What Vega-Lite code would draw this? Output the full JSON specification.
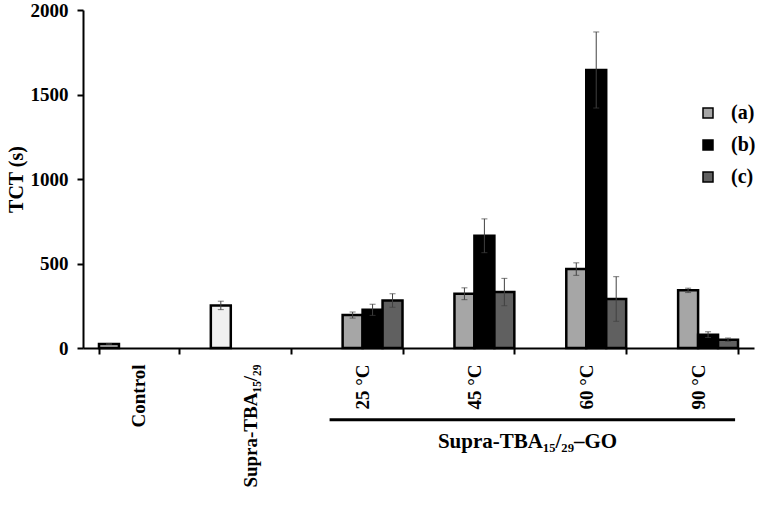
{
  "$schema": "https://vega.github.io/schema/vega-lite/v6.json",
  "width": 671,
  "height": 338,
  "autosize": {"type": "none"},
  "padding": {"left": 83, "top": 10, "right": 11, "bottom": 163},
  "config": {
    "view": {"stroke": null},
    "font": "'Times New Roman', 'Liberation Serif', serif",
    "axis": {
      "domainColor": "black", "domainWidth": 2, "tickColor": "black", "tickWidth": 2,
      "labelColor": "black", "labelFont": "'Times New Roman', 'Liberation Serif', serif", "labelFontWeight": "bold", "labelFontSize": 19,
      "titleColor": "black", "titleFont": "'Times New Roman', 'Liberation Serif', serif", "titleFontWeight": "bold", "titleFontSize": 20, "grid": false
    }
  },
  "datasets": {
    "tct": [
      {"category": "Control", "slot": "base", "series": "control", "tct": 24, "lo": 21, "hi": 27},
      {"category": "Supra-TBA₁₅/₂₉", "slot": "base", "series": "supra", "tct": 252, "lo": 227, "hi": 277},
      {"category": "25 °C", "slot": "(a)", "series": "(a)", "tct": 195, "lo": 177, "hi": 213},
      {"category": "25 °C", "slot": "(b)", "series": "(b)", "tct": 226, "lo": 193, "hi": 259},
      {"category": "25 °C", "slot": "(c)", "series": "(c)", "tct": 281, "lo": 241, "hi": 321},
      {"category": "45 °C", "slot": "(a)", "series": "(a)", "tct": 321, "lo": 286, "hi": 356},
      {"category": "45 °C", "slot": "(b)", "series": "(b)", "tct": 664, "lo": 564, "hi": 764},
      {"category": "45 °C", "slot": "(c)", "series": "(c)", "tct": 331, "lo": 250, "hi": 412},
      {"category": "60 °C", "slot": "(a)", "series": "(a)", "tct": 467, "lo": 430, "hi": 504},
      {"category": "60 °C", "slot": "(b)", "series": "(b)", "tct": 1645, "lo": 1420, "hi": 1870},
      {"category": "60 °C", "slot": "(c)", "series": "(c)", "tct": 290, "lo": 158, "hi": 422},
      {"category": "90 °C", "slot": "(a)", "series": "(a)", "tct": 341, "lo": 328, "hi": 354},
      {"category": "90 °C", "slot": "(b)", "series": "(b)", "tct": 79, "lo": 62, "hi": 96},
      {"category": "90 °C", "slot": "(c)", "series": "(c)", "tct": 49, "lo": 39, "hi": 59}
    ],
    "groups": [
      {"category": "25 °C", "last": "90 °C", "label": "Supra-TBA₁₅/₂₉–GO"}
    ]
  },
  "layer": [
    {
      "data": {"name": "tct"},
      "mark": {"type": "bar", "stroke": "black", "strokeWidth": 2.5},
      "encoding": {
        "x": {
          "field": "category", "type": "nominal", "sort": null,
          "title": "Supra-TBA₁₅/₂₉–GO",
          "scale": {
            "domain": ["Control", "Supra-TBA₁₅/₂₉", "25 °C", "45 °C", "60 °C", "90 °C"],
            "paddingInner": 0.286, "paddingOuter": 0.143
          },
          "axis": {
            "tickBand": "extent", "labelAngle": 270, "labelAlign": "right", "labelBaseline": "middle",
            "labelPadding": 10, "tickSize": 6,
            "titleX": 444, "titleY": 82, "titleAlign": "center", "titleBaseline": "top", "titleFontSize": 21
          }
        },
        "xOffset": {
          "field": "slot", "type": "nominal",
          "scale": {"domain": ["base", "(a)", "(b)", "(c)"], "paddingInner": 0, "paddingOuter": 0}
        },
        "y": {
          "field": "tct", "type": "quantitative", "title": "TCT (s)",
          "scale": {"domain": [0, 2000], "nice": false},
          "axis": {"values": [0, 500, 1000, 1500, 2000], "format": "d", "tickSize": 6, "labelPadding": 9, "titlePadding": 4}
        },
        "fill": {
          "field": "series", "type": "nominal",
          "scale": {
            "domain": ["control", "supra", "(a)", "(b)", "(c)"],
            "range": ["#bfbfbf", "#f0f0f0", "#a6a6a6", "#000000", "#606060"]
          },
          "legend": {
            "values": ["(a)", "(b)", "(c)"], "title": null, "orient": "none",
            "legendX": 615, "legendY": 93, "symbolType": "square", "symbolSize": 100,
            "symbolStrokeColor": "black", "symbolStrokeWidth": 1.5,
            "labelFont": "'Times New Roman', 'Liberation Serif', serif", "labelFontSize": 20, "labelFontWeight": "bold", "labelColor": "black",
            "rowPadding": 12, "labelOffset": 13
          }
        }
      }
    },
    {
      "data": {"name": "tct"},
      "mark": {"type": "rule", "color": "#404040", "strokeWidth": 1},
      "encoding": {
        "x": {"field": "category", "type": "nominal", "sort": null, "title": "Supra-TBA₁₅/₂₉–GO"},
        "xOffset": {"field": "slot", "type": "nominal"},
        "y": {"field": "lo", "type": "quantitative"},
        "y2": {"field": "hi"}
      }
    },
    {
      "data": {"name": "tct"},
      "mark": {"type": "tick", "color": "#404040", "thickness": 1, "size": 6},
      "encoding": {
        "x": {"field": "category", "type": "nominal", "sort": null, "title": "Supra-TBA₁₅/₂₉–GO"},
        "xOffset": {"field": "slot", "type": "nominal"},
        "y": {"field": "lo", "type": "quantitative"}
      }
    },
    {
      "data": {"name": "tct"},
      "mark": {"type": "tick", "color": "#404040", "thickness": 1, "size": 6},
      "encoding": {
        "x": {"field": "category", "type": "nominal", "sort": null, "title": "Supra-TBA₁₅/₂₉–GO"},
        "xOffset": {"field": "slot", "type": "nominal"},
        "y": {"field": "hi", "type": "quantitative"}
      }
    },
    {
      "data": {"name": "groups"},
      "mark": {"type": "rule", "color": "black", "strokeWidth": 3, "xOffset": -33, "x2Offset": 37, "clip": false},
      "encoding": {
        "x": {"field": "category", "type": "nominal", "sort": null, "title": "Supra-TBA₁₅/₂₉–GO"},
        "x2": {"field": "last"},
        "y": {"datum": -425}
      }
    }
  ]
}
